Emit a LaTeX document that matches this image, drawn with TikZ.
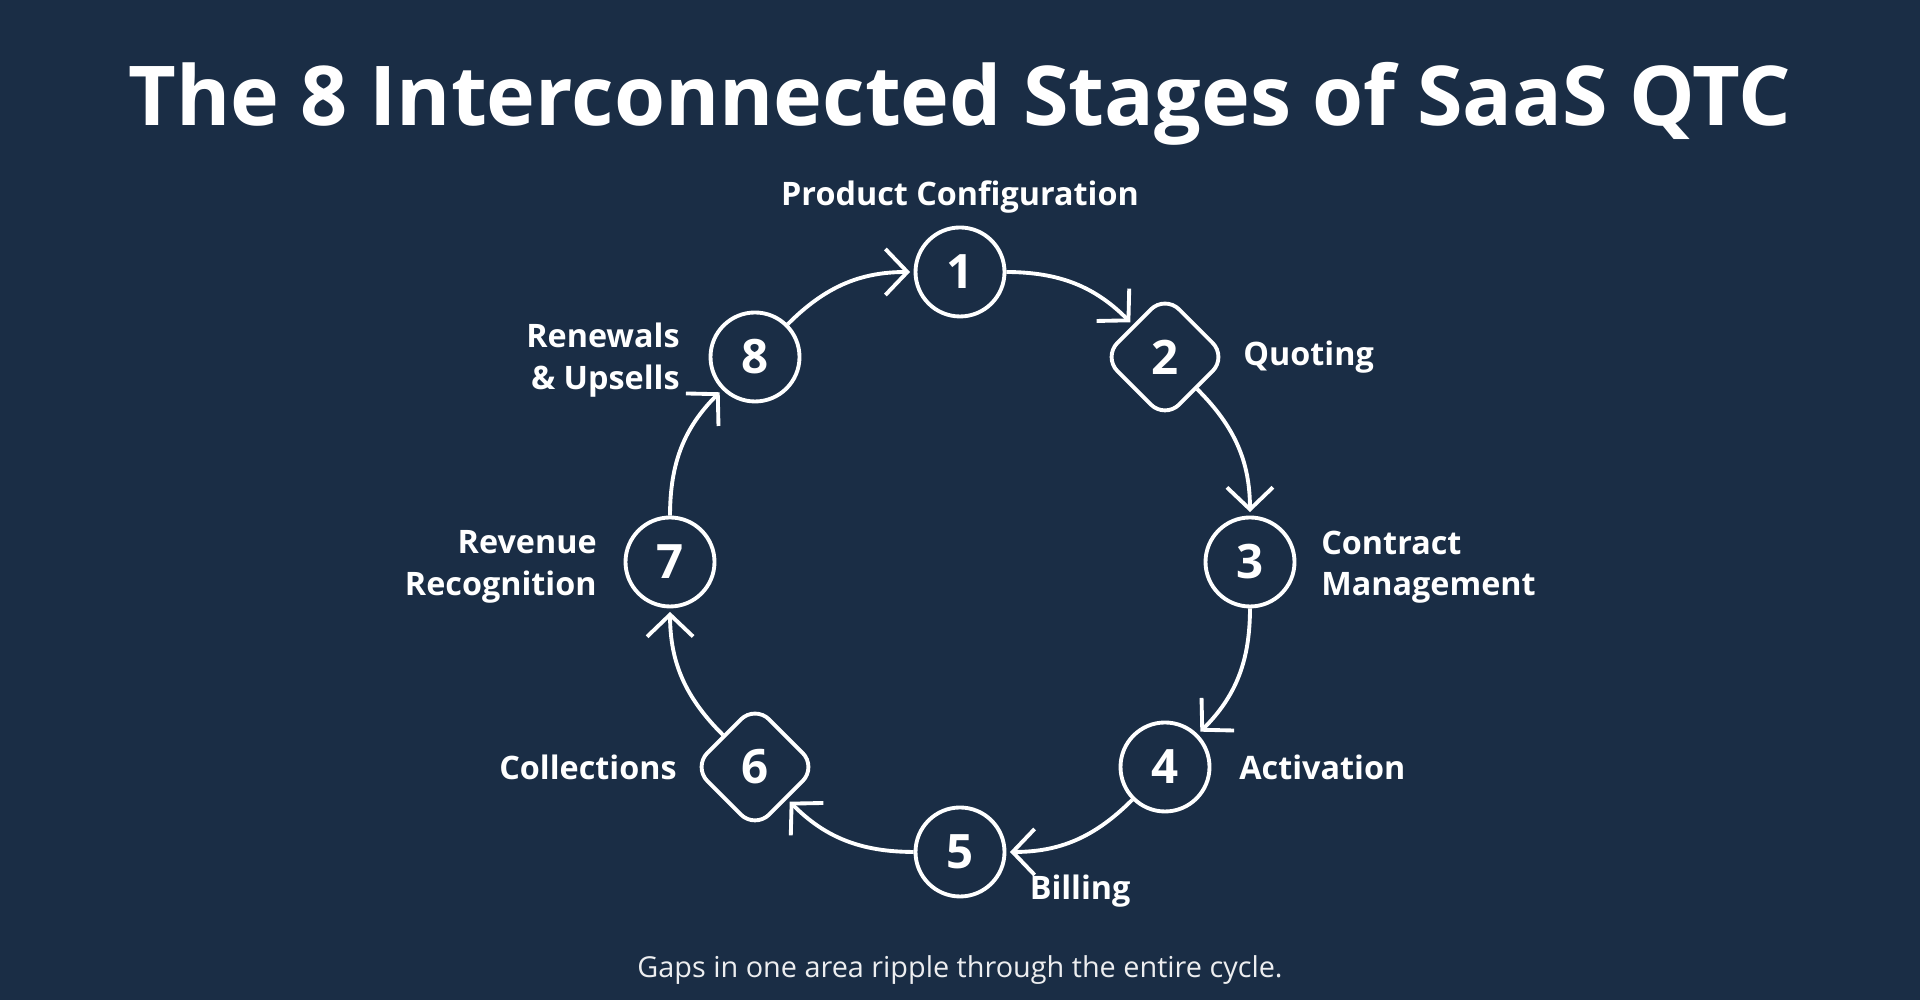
\documentclass[tikz,border=0pt]{standalone}
\usepackage{fontspec}
\setmainfont{Open Sans}
\usetikzlibrary{arrows.meta,positioning,shapes.geometric}
\definecolor{bgnavy}{HTML}{1A2D45}

\begin{document}
\begin{tikzpicture}[->,>={Straight Barb[length=2.2mm,width=4.6mm]},shorten >=1pt,line width=1.1pt,white,
  stage node/.style={circle,draw=white,minimum size=8.9mm,inner sep=0pt,font=\fontsize{13.5}{16}\selectfont\bfseries},
  gate node/.style={diamond,draw=white,rounded corners=2mm,minimum size=12.5mm,inner sep=0pt,font=\fontsize{13.5}{16}\selectfont\bfseries},
  stage label/.style={text=white,font=\fontsize{9.2}{11.8}\selectfont\bfseries,inner sep=0pt}]
  % background and frame
  \fill[bgnavy] (0,0) rectangle (19.2,10);

  \node[text=white,font=\fontsize{23.5}{28}\selectfont\bfseries] (title) at (9.6,8.96) {The 8 Interconnected Stages of SaaS QTC};

  \node[stage node] (1) at (9.6,7.28) {1};
  \node[gate node]  (2) at (11.65,6.43) {2};
  \node[stage node] (3) at (12.5,4.38) {3};
  \node[stage node] (4) at (11.65,2.33) {4};
  \node[stage node] (5) at (9.6,1.48) {5};
  \node[gate node]  (6) at (7.55,2.33) {6};
  \node[stage node] (7) at (6.7,4.38) {7};
  \node[stage node] (8) at (7.55,6.43) {8};

  % stage names
  \node[stage label,above=1.0mm of 1] (l1) {Product Configuration};
  \node[stage label,right=1.2mm of 2] (l2) {Quoting};
  \node[stage label,right=2.3mm of 3,align=left,yshift=-0.5mm] (l3) {Contract\\Management};
  \node[stage label,right=2.6mm of 4] (l4) {Activation};
  \node[stage label,right=3.5mm of 5.south east,yshift=-0.6mm] (l5) {Billing};
  \node[stage label,left=1.2mm of 6] (l6) {Collections};
  \node[stage label,left=2.5mm of 7,align=right,yshift=-0.5mm] (l7) {Revenue\\Recognition};
  \node[stage label,left=2.7mm of 8,align=right,yshift=-0.3mm] (l8) {Renewals\\\& Upsells};

\path[draw=white]
  (1) edge [bend left=22.5] (2)
  (2) edge [bend left=22.5] (3)
  (3) edge [bend left=22.5] (4)
  (4) edge [bend left=22.5] (5)
  (5) edge [bend left=22.5] (6)
  (6) edge [bend left=22.5] (7)
  (7) edge [bend left=22.5] (8)
  (8) edge [bend left=22.5] (1)
;

  \node[text=white!92!bgnavy,font=\fontsize{8.2}{10}\selectfont] (note) at (9.6,0.3) {Gaps in one area ripple through the entire cycle.};
\end{tikzpicture}
\end{document}
